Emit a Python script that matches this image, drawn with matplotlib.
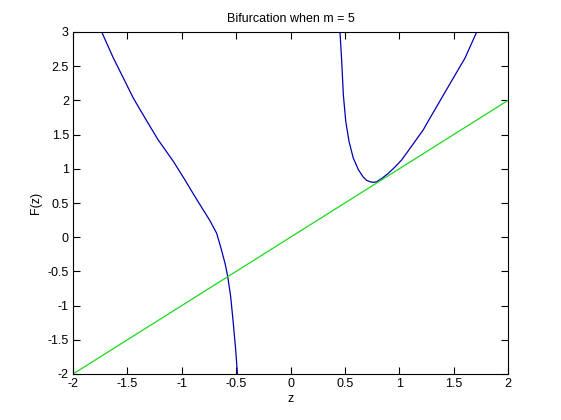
import matplotlib
matplotlib.use("Agg")
import matplotlib.pyplot as plt

plt.rcParams['font.family'] = ['Liberation Sans', 'DejaVu Sans']
plt.rcParams['axes.unicode_minus'] = False

# Left branch of F(z)
left_z = [-1.736, -1.629, -1.537, -1.446, -1.338, -1.220, -1.078, -0.970,
          -0.878, -0.802, -0.740, -0.679, -0.639, -0.602, -0.578, -0.550,
          -0.526, -0.504, -0.488]
left_F = [3.0, 2.62, 2.327, 2.035, 1.743, 1.430, 1.110, 0.836,
          0.592, 0.398, 0.240, 0.057, -0.162, -0.382, -0.567, -0.870,
          -1.259, -1.649, -2.0]

# Right branch of F(z)
right_z = [0.455, 0.471, 0.486, 0.508, 0.538, 0.577, 0.624, 0.670, 0.700, 0.731,
           0.762, 0.793, 0.845, 0.899, 0.960, 1.022, 1.129, 1.221, 1.283, 1.390,
           1.497, 1.605, 1.712]
right_F = [3.0, 2.57, 2.08, 1.694, 1.402, 1.158, 0.987, 0.876, 0.832, 0.811,
           0.802, 0.811, 0.865, 0.934, 1.025, 1.129, 1.365, 1.570, 1.743, 2.035,
           2.327, 2.62, 3.0]

# Identity line y = z
line_z = [-2, 2]
line_F = [-2, 2]

xticks = [-2, -1.5, -1, -0.5, 0, 0.5, 1, 1.5, 2]
yticks = [-2, -1.5, -1, -0.5, 0, 0.5, 1, 1.5, 2, 2.5, 3]

fig = plt.figure(figsize=(5.61, 4.2), dpi=100)
ax = fig.add_axes([73/561, 46/420, 435/561, 342/420])

ax.plot(left_z, left_F, color=(0, 0, 0.7), lw=0.9)
ax.plot(right_z, right_F, color=(0, 0, 0.7), lw=0.9)
ax.plot(line_z, line_F, color=(0.1, 0.85, 0.1), lw=0.9)

ax.set_xlim(-2, 2)
ax.set_ylim(-2, 3)
ax.set_xticks(xticks)
ax.set_xticklabels([f"{t:g}" for t in xticks])
ax.set_yticks(yticks)
ax.set_yticklabels([f"{t:g}" for t in yticks])
ax.tick_params(direction='in', top=True, right=True, labelsize=9, length=5, width=0.8, pad=3)
for s in ax.spines.values():
    s.set_linewidth(0.8)

ax.set_xlabel('z', fontsize=9, labelpad=2)
ax.set_ylabel('F(z)', fontsize=9, labelpad=4)
ax.set_title('Bifurcation when m = 5', fontsize=9, pad=7)

fig.savefig('out.png', dpi=100)
